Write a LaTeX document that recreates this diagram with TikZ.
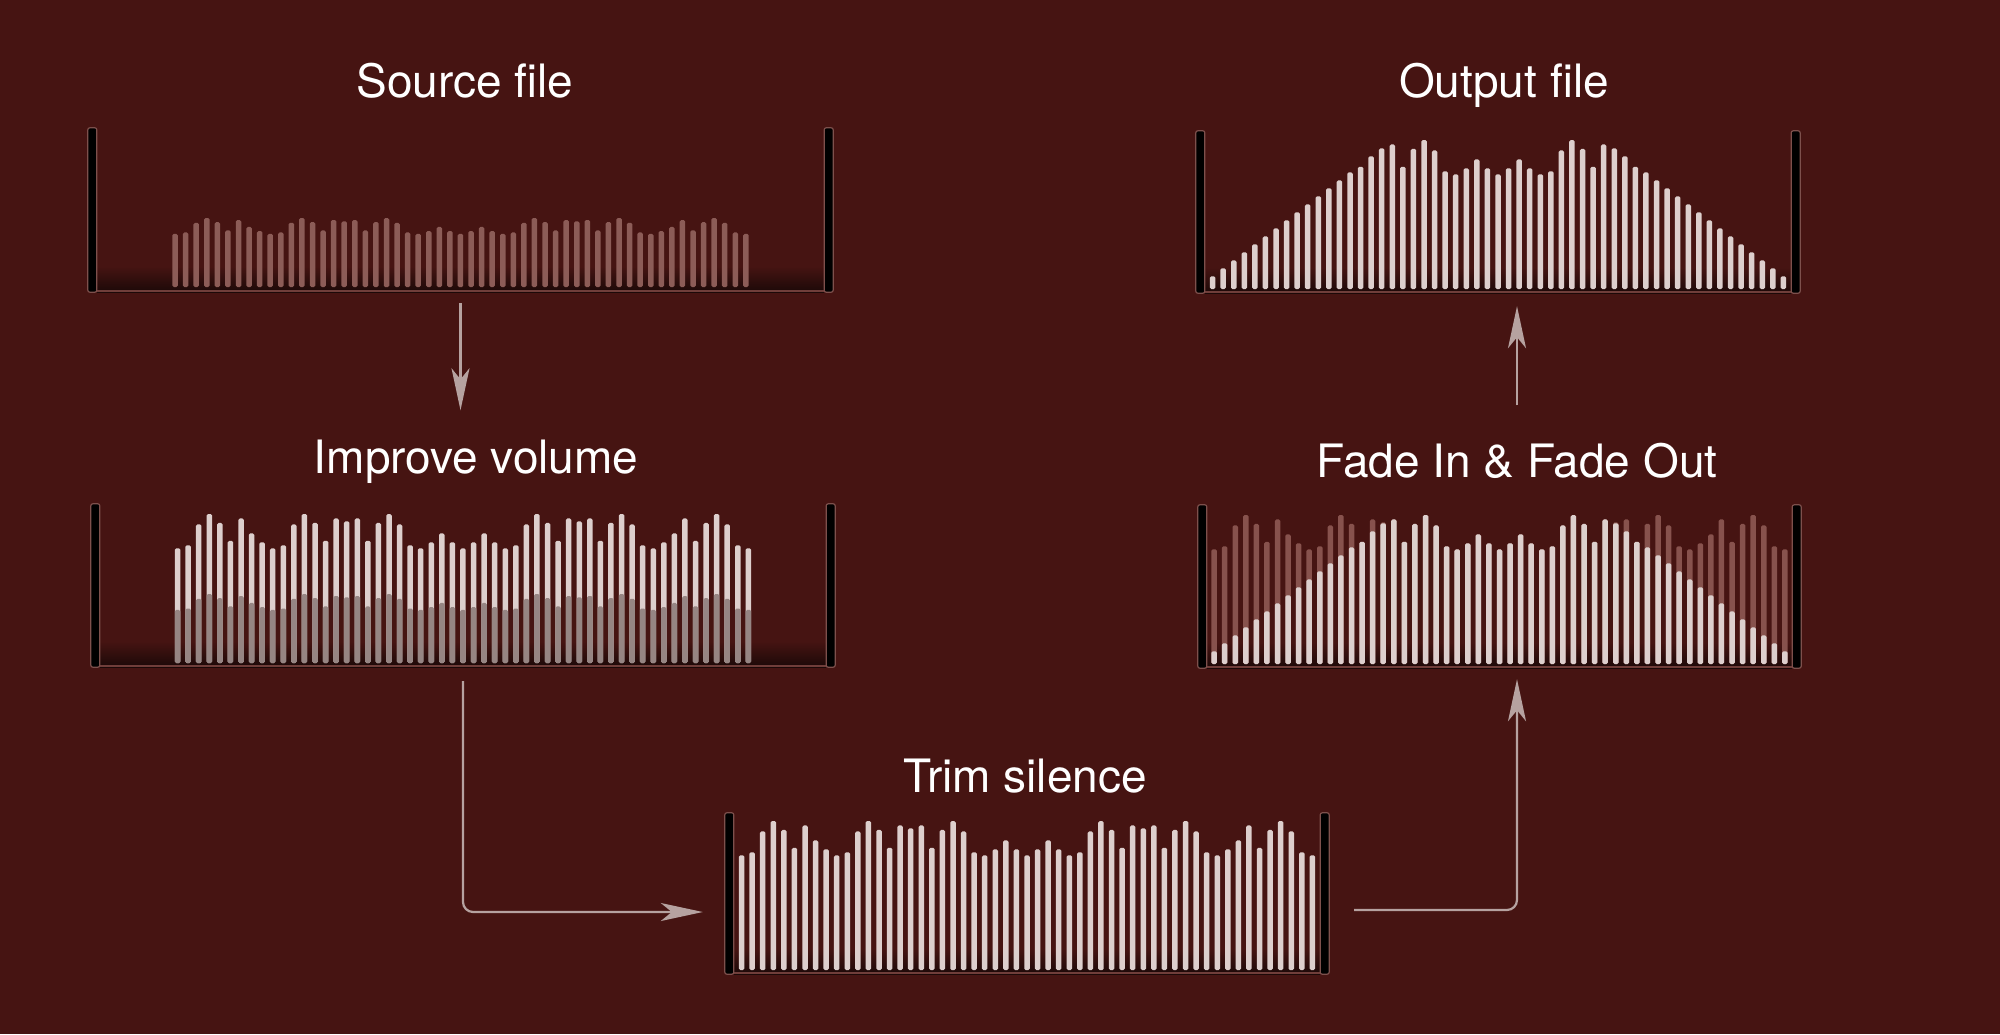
\documentclass[tikz,border=0pt]{standalone}
\usepackage{fontspec}
\usepackage{tikz}
\usetikzlibrary{arrows.meta, positioning}
\usepackage{xcolor}
\newfontfamily\headfont{TeX Gyre Heros}

\definecolor{bgred}{RGB}{70,20,18}
\definecolor{shadowdark}{RGB}{28,9,8}
\definecolor{postrim}{RGB}{125,80,76}
\definecolor{edgeline}{RGB}{112,62,58}
\definecolor{barlight}{RGB}{221,207,205}
\definecolor{barlow}{RGB}{150,133,131}
\definecolor{srcred}{RGB}{140,92,87}
\definecolor{ghostred}{RGB}{135,82,77}
\definecolor{arrowgrey}{RGB}{182,162,160}

% amplitude of each of the 55 bars
\def\amps{77,79,93,100,94,82,97,87,81,77,79,93,100,94,82,97,95,97,82,94,100,93,79,77,81,87,81,77,81,87,81,77,79,93,100,94,82,97,95,97,82,94,100,93,79,77,81,87,97,82,94,100,93,79,77}

\begin{document}
\begin{tikzpicture}
  [x=1pt, y=-1pt,
  title/.style={anchor=base, inner sep=0pt, text=white, font=\headfont\fontsize{46}{50}\selectfont},
  panel/.style={rectangle, inner sep=0pt},
  post/.style={fill=black, draw=postrim, line width=1.2pt, rounded corners=2pt},
  ledge/.style={draw=edgeline, line width=2pt},
  lightbar/.style={fill=barlight, rounded corners=1.5pt},
  lowbar/.style={fill=barlow, rounded corners=1.5pt},
  srcbar/.style={fill=srcred, rounded corners=1.5pt},
  ghostbar/.style={fill=ghostred, rounded corners=1.5pt},
  flow/.style={draw=arrowgrey, line width=2.2pt, -{Stealth[length=42pt, width=18pt, inset=11pt]}}]

% Background
\fill[bgred] (0,0) rectangle (2000,1034);
\useasboundingbox (0,0) rectangle (2000,1034);

% Frames for the five steps
\node[panel, minimum width=745pt, minimum height=164pt] (srcbox) at (460.5, 210) {};
\node[panel, minimum width=744pt, minimum height=163pt] (impbox) at (463, 585.5) {};
\node[panel, minimum width=604pt, minimum height=161pt] (trimbox) at (1027, 893.5) {};
\node[panel, minimum width=603pt, minimum height=163pt] (fadebox) at (1499.5, 586.5) {};
\node[panel, minimum width=604pt, minimum height=162pt] (outbox) at (1498, 212) {};

% Titles
\node[title] (srctitle) at (465, 97) {Source file};
\node[title] (imptitle) at (476, 473) {Improve volume};
\node[title] (trimtitle) at (1025, 792) {Trim silence};
\node[title] (fadetitle) at (1517, 477) {Fade In \& Fade Out};
\node[title] (outtitle) at (1504, 97) {Output file};

% Posts, shadow and bottom edge of every frame
\foreach \p in {srcbox, impbox, trimbox, fadebox, outbox} {
  \shade[top color=bgred, bottom color=shadowdark] ([xshift=9pt]\p.south west) rectangle ([xshift=-9pt, yshift=26pt]\p.south east);
  \draw[ledge] ([yshift=1pt]\p.south west) -- ([yshift=1pt]\p.south east);
  \draw[post] (\p.south west) rectangle ([xshift=9pt]\p.north west);
  \draw[post] (\p.south east) rectangle ([xshift=-9pt]\p.north east);
}

% Source file bars
\foreach \a [count=\i] in \amps {
  \pgfmathsetmacro{\bx}{175.1 + 10.57*(\i-1)}
  \fill[srcbar] (\bx-2.75, 287) rectangle ++(5.5, -0.69*\a);
}

% Improve volume bars, old level below
\foreach \a [count=\i] in \amps {
  \pgfmathsetmacro{\bx}{177.6 + 10.57*(\i-1)}
  \fill[lightbar] (\bx-2.75, 663) rectangle ++(5.5, -1.49*\a);
  \fill[lowbar] (\bx-2.75, 663) rectangle ++(5.5, -0.69*\a);
}

% Trim silence bars
\foreach \a [count=\i] in \amps {
  \pgfmathsetmacro{\bx}{741.6 + 10.57*(\i-1)}
  \fill[lightbar] (\bx-2.75, 970) rectangle ++(5.5, -1.49*\a);
}

% Fade in and fade out bars over the untouched ones
\foreach \a [count=\i] in \amps {
  \pgfmathsetmacro{\bx}{1214.1 + 10.57*(\i-1)}
  \pgfmathsetmacro{\bh}{min(1.49*\a, 12.7 + 8*min(\i-1, 55-\i))}
  \fill[ghostbar] (\bx-2.75, 664) rectangle ++(5.5, -1.49*\a);
  \fill[lightbar] (\bx-2.75, 664) rectangle ++(5.5, -\bh);
}

% Output file bars
\foreach \a [count=\i] in \amps {
  \pgfmathsetmacro{\bx}{1212.6 + 10.57*(\i-1)}
  \pgfmathsetmacro{\bh}{min(1.49*\a, 12.7 + 8*min(\i-1, 55-\i))}
  \fill[lightbar] (\bx-2.75, 289) rectangle ++(5.5, -\bh);
}

% Arrows between the steps
\draw[flow, shorten <=11pt, shorten >=29pt] (srcbox.south) -- (srcbox.south |- imptitle.north);
\draw[flow, rounded corners=10pt, shorten <=14pt, shorten >=22pt] (impbox.south) |- ([yshift=-18.5pt]trimbox.west);
\draw[flow, rounded corners=10pt, shorten <=25pt, shorten >=11pt] ([yshift=-16.5pt]trimbox.east) -| (fadetitle |- fadebox.south);
\draw[flow, shorten <=37pt, shorten >=13pt] (fadetitle.north) -- (fadetitle |- outbox.south);

\end{tikzpicture}
\end{document}
